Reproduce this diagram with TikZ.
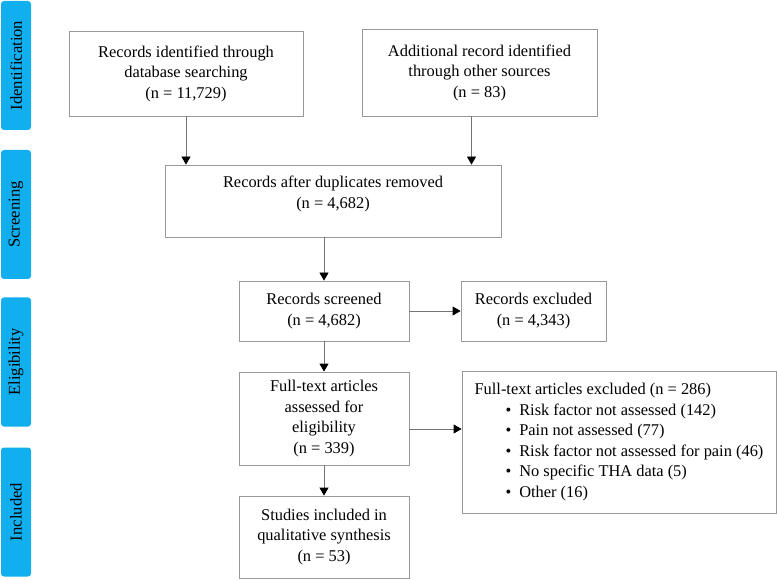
\documentclass[tikz,border=0pt]{standalone}
\usepackage{fontspec}
\setmainfont{Liberation Serif}
\usetikzlibrary{arrows.meta}
\definecolor{fase}{HTML}{12AFEF}

\begin{document}
\begin{tikzpicture}[x=1pt, y=-1pt, >={Triangle[width=9pt,length=8pt,color=black]}]
% Stili per le caselle del diagramma di flusso
\tikzset{box/.style={draw=black!40, line width=0.8pt, align=center, inner sep=4pt,
    font=\fontsize{16.4}{20.5}\selectfont},
  phase/.style={fill=fase, rounded corners=3pt, rotate=90, minimum height=30pt,
    minimum width=129pt, inner sep=0pt, font=\fontsize{16.6}{20}\selectfont},
  link/.style={->, draw=black!55, line width=0.8pt}}

% Area del disegno (margini compresi)
\useasboundingbox (0,0) rectangle (777,580);

% --- FASI A SINISTRA ---
\node[phase] (fId) at (16,65.5) {Identification};
\node[phase] (fSc) at (16,214.5) {Screening};
\node[phase] (fEl) at (16,362) {Eligibility};
\node[phase] (fIn) at (16,512) {Included};

% --- CASELLE ---
\node[box, minimum width=234pt, minimum height=85pt] (ident) at (186,73.5)
  {Records identified through\\database searching\\(n = 11,729)};
\node[box, minimum width=235pt, minimum height=87pt] (other) at (479.5,72.5)
  {Additional record identified\\through other sources\\(n = 83)};
\node[box, minimum width=336pt, minimum height=72pt] (dupl) at (333,201)
  {Records after duplicates removed\\(n = 4,682)\\[-3pt]\mbox{}};
\node[box, minimum width=170pt, minimum height=60pt] (screen) at (324,311)
  {Records screened\\(n = 4,682)};
\node[box, minimum width=145pt, minimum height=60pt] (excl) at (533.5,311)
  {Records excluded\\(n = 4,343)};
\node[box, minimum width=170pt, minimum height=93pt] (full) at (324,418.5)
  {Full-text articles\\assessed for\\eligibility\\(n = 339)};
\node[box, minimum width=314pt, minimum height=142pt, align=left] (fullex) at (619,442)
  {Full-text articles excluded (n = 286)\\
   \hspace*{31pt}\textbullet\hspace{8pt}Risk factor not assessed (142)\\
   \hspace*{31pt}\textbullet\hspace{8pt}Pain not assessed (77)\\
   \hspace*{31pt}\textbullet\hspace{8pt}Risk factor not assessed for pain (46)\\
   \hspace*{31pt}\textbullet\hspace{8pt}No specific THA data (5)\\
   \hspace*{31pt}\textbullet\hspace{8pt}Other (16)};
\node[box, minimum width=170pt, minimum height=82pt] (incl) at (324,537)
  {Studies included in\\qualitative synthesis\\(n = 53)};

% --- FRECCE ---
\draw[link] (ident.south) -- (ident.south |- dupl.north);
\draw[link] ([xshift=-8pt]other.south) -- ([xshift=-8pt]other.south |- dupl.north);
\draw[link] (screen.north |- dupl.south) -- (screen.north);
\draw[link] (screen.east) -- (excl.west);
\draw[link] (screen.south) -- (full.north);
\draw[link] ([yshift=-10.5pt]full.east) -- ([yshift=-10.5pt]full.east -| fullex.west);
\draw[link] (full.south) -- (incl.north);

\end{tikzpicture}
\end{document}
